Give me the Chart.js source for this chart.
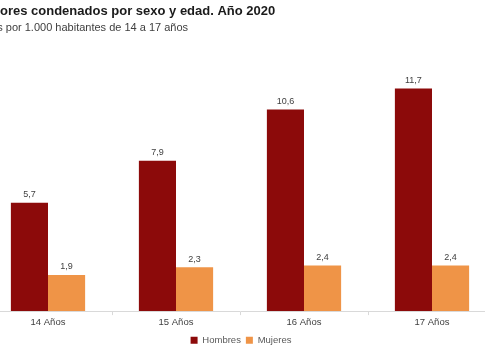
<!DOCTYPE html>
<html>
<head>
<meta charset="utf-8">
<script src="https://cdn.jsdelivr.net/npm/chart.js@4/dist/chart.umd.min.js"></script>
<style>
  html,body{margin:0;padding:0;background:#fff;overflow:hidden;width:485px;height:360px;}
  #wrap{position:absolute;left:-30px;top:0;width:538px;height:360px;}
</style>
</head>
<body>
<div id="wrap"><canvas id="chart"></canvas></div>
<script>
const ages = ['14 Años','15 Años','16 Años','17 Años'];
const hombres = [5.7, 7.9, 10.6, 11.7];
const mujeres = [1.9, 2.3, 2.4, 2.4];

const FONT = "'Liberation Sans', Arial, sans-serif";

// value labels above each bar, with comma decimals
const barLabels = {
  id:'barLabels',
  afterDatasetsDraw(chart){
    const ctx = chart.ctx;
    ctx.save();
    ctx.font = '9px ' + FONT;
    ctx.fillStyle = '#404040';
    ctx.textAlign = 'center';
    ctx.textBaseline = 'middle';
    chart.data.datasets.forEach((ds,i)=>{
      chart.getDatasetMeta(i).data.forEach((el,j)=>{
        ctx.fillText(ds.data[j].toFixed(1).replace('.',','), el.x, el.y - 8);
      });
    });
    ctx.restore();
  }
};

new Chart(document.getElementById('chart'), {
  type:'bar',
  data:{
    labels:ages,
    datasets:[
      {label:'Hombres', data:hombres, backgroundColor:'#8c0a0a'},
      {label:'Mujeres', data:mujeres, backgroundColor:'#ef9447'}
    ]
  },
  options:{
    responsive:true,
    maintainAspectRatio:false,
    animation:false,
    datasets:{bar:{categoryPercentage:0.58, barPercentage:1}},
    layout:{padding:{left:4, right:0, top:0, bottom:5}},
    plugins:{
      title:{display:true, text:'Menores condenados por sexo y edad. Año 2020', align:'start',
        color:'#1a1a1a', font:{family:FONT, size:13, weight:'bold'}, padding:{top:3.5,bottom:0}},
      subtitle:{display:true, text:'Tasas por 1.000 habitantes de 14 a 17 años', align:'start',
        color:'#404040', font:{family:FONT, size:11}, padding:{top:2,bottom:10.5}},
      legend:{position:'bottom', labels:{boxWidth:7, boxHeight:7, padding:5, color:'#595959',
        font:{family:FONT, size:9.5}}},
      tooltip:{enabled:false}
    },
    scales:{
      x:{
        grid:{display:true, drawOnChartArea:false, drawTicks:true, tickLength:4, color:'#d9d9d9'},
        border:{display:true, color:'#d9d9d9'},
        ticks:{color:'#404040', padding:2, font:{family:FONT, size:9.5}}
      },
      y:{
        min:0, max:14,
        ticks:{display:false}, grid:{display:false}, border:{display:false},
        afterFit(s){ s.width = 10; }
      },
      y2:{
        position:'right', display:true,
        ticks:{display:false}, grid:{display:false}, border:{display:false},
        afterFit(s){ s.width = 12; }
      }
    }
  },
  plugins:[barLabels]
});
</script>
</body>
</html>
